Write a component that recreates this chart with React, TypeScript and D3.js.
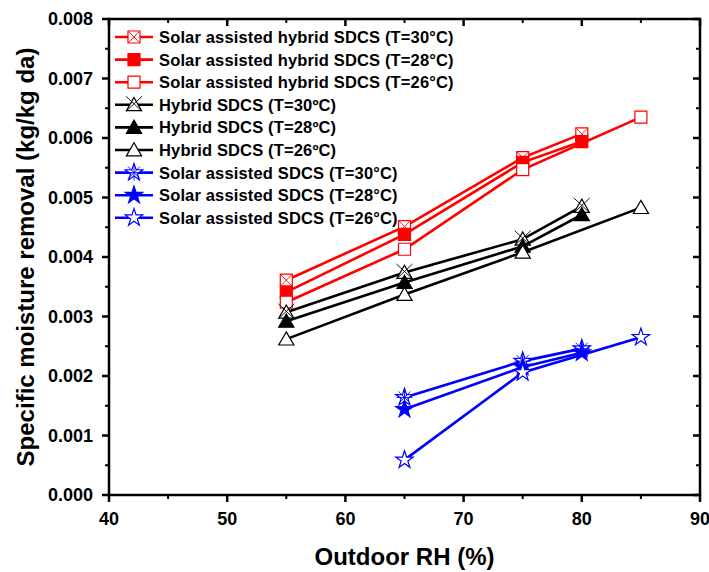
import React from "react";
import * as d3 from "d3";

// data
const rh55to80 = [55, 65, 75, 80];
const rh55to85 = [55, 65, 75, 85];
const rh65to80 = [65, 75, 80];
const rh65to85 = [65, 75, 85];

const sahSdcs30 = [0.00361, 0.00451, 0.00567, 0.00607];
const sahSdcs28 = [0.00341, 0.00438, 0.00559, 0.00594];
const sahSdcs26 = [0.00324, 0.00413, 0.00547, 0.00635];
const hybSdcs30 = [0.00307, 0.00374, 0.0043, 0.00485];
const hybSdcs28 = [0.00292, 0.00357, 0.00418, 0.00471];
const hybSdcs26 = [0.00262, 0.00337, 0.00408, 0.00483];
const saSdcs30 = [0.00164, 0.00225, 0.00246];
const saSdcs28 = [0.00144, 0.00215, 0.00239];
const saSdcs26 = [0.00059, 0.00206, 0.00265];

const xTicks = [40, 50, 60, 70, 80, 90];
const yTicks = [0, 0.001, 0.002, 0.003, 0.004, 0.005, 0.006, 0.007, 0.008];

type Marker = "xsquare" | "fsquare" | "osquare" | "xtri" | "ftri" | "otri" | "xstar" | "fstar" | "ostar";

const series: { name: string; color: string; marker: Marker; xs: number[]; ys: number[] }[] = [
  { name: "Solar assisted hybrid SDCS (T=30°C)", color: "#ff0000", marker: "xsquare", xs: rh55to80, ys: sahSdcs30 },
  { name: "Solar assisted hybrid SDCS (T=28°C)", color: "#ff0000", marker: "fsquare", xs: rh55to80, ys: sahSdcs28 },
  { name: "Solar assisted hybrid SDCS (T=26°C)", color: "#ff0000", marker: "osquare", xs: rh55to85, ys: sahSdcs26 },
  { name: "Hybrid SDCS (T=30ºC)", color: "#000000", marker: "xtri", xs: rh55to80, ys: hybSdcs30 },
  { name: "Hybrid SDCS (T=28ºC)", color: "#000000", marker: "ftri", xs: rh55to80, ys: hybSdcs28 },
  { name: "Hybrid SDCS (T=26ºC)", color: "#000000", marker: "otri", xs: rh55to85, ys: hybSdcs26 },
  { name: "Solar assisted SDCS (T=30°C)", color: "#0000ff", marker: "xstar", xs: rh65to80, ys: saSdcs30 },
  { name: "Solar assisted SDCS (T=28°C)", color: "#0000ff", marker: "fstar", xs: rh65to80, ys: saSdcs28 },
  { name: "Solar assisted SDCS (T=26°C)", color: "#0000ff", marker: "ostar", xs: rh65to85, ys: saSdcs26 },
];

const W = 709;
const H = 572;
const m = { left: 109, right: 9, top: 19, bottom: 77 };
const font = "'Liberation Sans', Arial, sans-serif";

const x = d3.scaleLinear().domain([40, 90]).range([m.left, W - m.right]);
const y = d3.scaleLinear().domain([0, 0.008]).range([H - m.bottom, m.top]);

const sq = d3.symbol().type(d3.symbolSquare).size(144)();
const tri = d3.symbol().type(d3.symbolTriangle).size(100)();
const star = d3.symbol().type(d3.symbolStar).size(95)();

function MarkerShape({ kind, color, cx, cy }: { kind: Marker; color: string; cx: number; cy: number }) {
  const shape = kind.endsWith("square") ? sq : kind.endsWith("tri") ? tri : star;
  const filled = kind.startsWith("f");
  const cross = kind.startsWith("x");
  const dy = kind.endsWith("tri") ? 1.5 : 0;
  return (
    <g transform={`translate(${cx},${cy + dy})`}>
      <path d={shape!} fill={filled ? color : "#fff"} stroke={color} strokeWidth={1.2} />
      {cross && kind === "xsquare" && (
        <path d="M-5.5,-5.5L5.5,5.5M5.5,-5.5L-5.5,5.5" stroke={color} strokeWidth={0.9} />
      )}
      {cross && kind === "xtri" && (
        <path d="M-8,-10L8,5M8,-10L-8,5" stroke={color} strokeWidth={0.9} />
      )}
      {cross && kind === "xstar" && (
        <path d="M-8,0L8,0M0,-8L0,8M-6,-6L6,6M6,-6L-6,6" stroke={color} strokeWidth={0.9} />
      )}
    </g>
  );
}

export default function App() {
  const line = d3.line<[number, number]>().x((d) => x(d[0])).y((d) => y(d[1]));
  const minorX = d3.range(45, 90, 10);
  const minorY = d3.range(0.0005, 0.008, 0.001);
  const x0 = m.left;
  const x1 = W - m.right;
  const y0 = H - m.bottom;
  const y1 = m.top;

  return (
    <svg width={W} height={H} style={{ position: "absolute", left: 0, top: 0, background: "#fff" }} fontFamily={font}>
      <rect x={0} y={0} width={W} height={H} fill="#fff" />
      {/* series */}
      {series.map((s) => (
        <g key={s.name}>
          <path d={line(s.xs.map((v, i) => [v, s.ys[i]] as [number, number]))!} fill="none" stroke={s.color} strokeWidth={2.6} />
          {s.xs.map((v, i) => (
            <MarkerShape key={i} kind={s.marker} color={s.color} cx={x(v)} cy={y(s.ys[i])} />
          ))}
        </g>
      ))}
      {/* frame */}
      <rect x={x0} y={y1} width={x1 - x0} height={y0 - y1} fill="none" stroke="#000" strokeWidth={2.5} />
      {xTicks.map((t) => (
        <g key={t}>
          <line x1={x(t)} x2={x(t)} y1={y0} y2={y0 + 7} stroke="#000" strokeWidth={2.5} />
          <line x1={x(t)} x2={x(t)} y1={y1} y2={y1 + 7} stroke="#000" strokeWidth={2.5} />
          <text x={x(t)} y={y0 + 30} textAnchor="middle" fontSize={18} fontWeight="bold">
            {t}
          </text>
        </g>
      ))}
      {minorX.map((t) => (
        <g key={t}>
          <line x1={x(t)} x2={x(t)} y1={y0} y2={y0 + 4} stroke="#000" strokeWidth={2} />
          <line x1={x(t)} x2={x(t)} y1={y1} y2={y1 + 4} stroke="#000" strokeWidth={2} />
        </g>
      ))}
      {yTicks.map((t) => (
        <g key={t}>
          <line x1={x0 - 7} x2={x0} y1={y(t)} y2={y(t)} stroke="#000" strokeWidth={2.5} />
          <line x1={x1 - 7} x2={x1} y1={y(t)} y2={y(t)} stroke="#000" strokeWidth={2.5} />
          <text x={x0 - 16} y={y(t) + 6} textAnchor="end" fontSize={18} fontWeight="bold">
            {d3.format(".3f")(t)}
          </text>
        </g>
      ))}
      {minorY.map((t) => (
        <g key={t}>
          <line x1={x0 - 4} x2={x0} y1={y(t)} y2={y(t)} stroke="#000" strokeWidth={2} />
          <line x1={x1 - 4} x2={x1} y1={y(t)} y2={y(t)} stroke="#000" strokeWidth={2} />
        </g>
      ))}
      <text x={(x0 + x1) / 2} y={565} textAnchor="middle" fontSize={24} fontWeight="bold">
        Outdoor RH (%)
      </text>
      <text transform={`translate(34,${(y0 + y1) / 2}) rotate(-90)`} textAnchor="middle" fontSize={24} fontWeight="bold">
        Specific moisture removal (kg/kg da)
      </text>
      {/* legend */}
      {series.map((s, i) => {
        const ly = 37 + i * 22.6;
        return (
          <g key={s.name}>
            <line x1={115} x2={153} y1={ly} y2={ly} stroke={s.color} strokeWidth={2.6} />
            <MarkerShape kind={s.marker} color={s.color} cx={134} cy={ly} />
            <text x={159} y={ly + 6} fontSize={16.5} fontWeight="bold" letterSpacing={0.15}>
              {s.name}
            </text>
          </g>
        );
      })}
    </svg>
  );
}
